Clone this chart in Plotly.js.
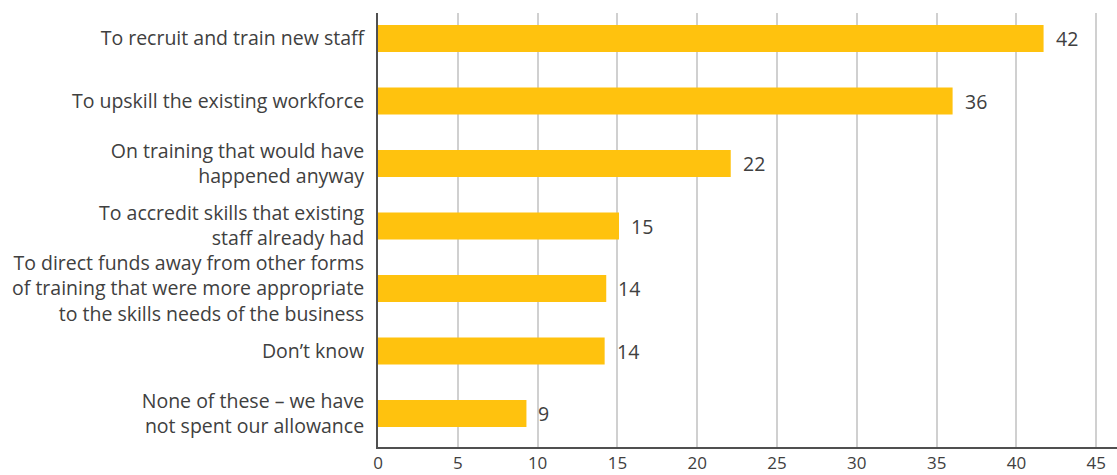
<!DOCTYPE html>
<html>
<head>
<meta charset="utf-8">
<script src="https://cdn.plot.ly/plotly-3.0.1.min.js"></script>
<style>html,body{margin:0;padding:0;background:#fff;}#chart{width:1117px;height:475px;}</style>
</head>
<body>
<div id="chart"></div>
<script>
var categories = [
  "To recruit and train new staff",
  "To upskill the existing workforce",
  "On training that would have<br>happened anyway",
  "To accredit skills that existing<br>staff already had",
  "To direct funds away from other forms<br>of training that were more appropriate<br>to the skills needs of the business",
  "Don\u2019t know",
  "None of these \u2013 we have<br>not spent our allowance"
];
var values = [41.7, 36.0, 22.1, 15.1, 14.3, 14.2, 9.3];
var valueLabels = ["42", "36", "22", "15", "14", "14", "9"];
var xTicks = [0, 5, 10, 15, 20, 25, 30, 35, 40, 45];

var FONT = "Open Sans, sans-serif";
var TXT = "#404040";
var FS = 19.5;

var trace = {
  type: "bar",
  orientation: "h",
  x: values,
  y: categories,
  marker: {color: "#FFC20E"},
  hoverinfo: "none"
};

var annotations = values.map(function (v, i) {
  return {
    x: v, y: categories[i], xref: "x", yref: "y",
    text: valueLabels[i], showarrow: false,
    xanchor: "left", yanchor: "middle", xshift: 10,
    font: {family: FONT, size: FS, color: TXT}
  };
});

var layout = {
  width: 1117,
  height: 475,
  margin: {l: 378, r: 0, t: 13, b: 28},
  paper_bgcolor: "#fff",
  plot_bgcolor: "#fff",
  showlegend: false,
  bargap: 0.568,
  font: {family: FONT, size: FS, color: TXT},
  annotations: annotations,
  xaxis: {
    range: [0, 46.3],
    tickvals: xTicks,
    ticktext: xTicks.map(String),
    showgrid: true,
    gridcolor: "#d0d0d0",
    gridwidth: 2,
    zeroline: false,
    showline: true,
    linecolor: "#505050",
    linewidth: 2,
    ticks: "",
    tickfont: {family: FONT, size: 17, color: TXT},
    fixedrange: true
  },
  yaxis: {
    type: "category",
    categoryorder: "array",
    categoryarray: categories,
    range: [6.536, -0.408],
    showgrid: false,
    zeroline: false,
    showline: true,
    linecolor: "#505050",
    linewidth: 2,
    ticks: "",
    ticklabelstandoff: 8,
    tickfont: {family: FONT, size: FS, color: TXT},
    fixedrange: true
  }
};

Plotly.newPlot("chart", [trace], layout, {displayModeBar: false, staticPlot: true});
</script>
</body>
</html>
